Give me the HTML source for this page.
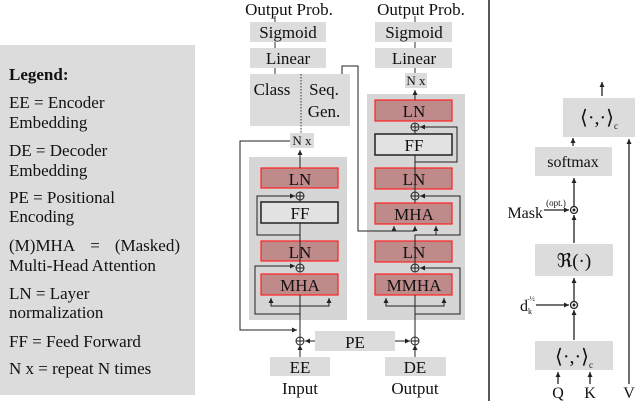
<!DOCTYPE html>
<html><head><meta charset="utf-8"><style>
html,body{margin:0;padding:0;background:#fff;}
svg{display:block;font-family:"Liberation Serif",serif;}
</style></head><body>
<svg width="640" height="401" viewBox="0 0 640 401" xmlns="http://www.w3.org/2000/svg">
<defs>
<marker id="a" markerWidth="6" markerHeight="6" refX="5" refY="3" orient="auto" markerUnits="userSpaceOnUse"><path d="M0,0.5 L5,3 L0,5.5z" fill="#222"/></marker>
</defs>
<rect x="0" y="45" width="195" height="350" fill="#dcdcdc"/>
<g font-size="17" fill="#111">
<text x="9" y="80" font-weight="bold">Legend:</text>
<text x="9" y="108">EE = Encoder</text><text x="9" y="128">Embedding</text>
<text x="9" y="156">DE = Decoder</text><text x="9" y="176">Embedding</text>
<text x="9" y="203">PE = Positional</text><text x="9" y="222">Encoding</text>
<text x="9" y="251">(M)MHA</text><text x="95" y="251" text-anchor="middle">=</text><text x="180" y="251" text-anchor="end">(Masked)</text>
<text x="9" y="271">Multi-Head Attention</text>
<text x="9" y="299">LN = Layer</text><text x="9" y="318">normalization</text>
<text x="9" y="347">FF = Feed Forward</text>
<text x="9" y="374">N x = repeat N times</text>
</g>
<g font-size="17" fill="#111" text-anchor="middle">
<text x="289" y="15">Output Prob.</text>
<text x="421" y="15">Output Prob.</text>
<rect x="250" y="22" width="76" height="20" fill="#dcdcdc"/><text x="288" y="38">Sigmoid</text>
<rect x="250" y="48" width="76" height="20" fill="#dcdcdc"/><text x="288" y="64">Linear</text>
<rect x="250" y="74" width="100" height="52" fill="#dcdcdc"/>
<text x="272" y="95">Class</text><text x="324" y="95">Seq.</text><text x="324" y="117">Gen.</text>
<line x1="301" y1="74" x2="301" y2="133" stroke="#333" stroke-dasharray="1.5,1.5"/>
<line x1="275" y1="42" x2="275" y2="48" stroke="#333"/><line x1="275" y1="68" x2="275" y2="74" stroke="#333"/>
<line x1="275" y1="16" x2="275" y2="22" stroke="#333"/>
<rect x="290" y="133" width="24" height="15" fill="#dcdcdc"/><text x="302" y="145" font-size="13">N x</text>
<rect x="249" y="157" width="98" height="163" fill="#d6d6d6"/>
<rect x="261" y="168" width="77" height="20" fill="#bf8a8a" stroke="#f22" stroke-width="1.2"/><text x="300" y="185">LN</text>
<rect x="261" y="202" width="77" height="21" fill="#e2e2e2" stroke="#222" stroke-width="1.5"/><text x="300" y="219">FF</text>
<rect x="261" y="241" width="77" height="20" fill="#bf8a8a" stroke="#f22" stroke-width="1.2"/><text x="300" y="258">LN</text>
<rect x="261" y="274" width="77" height="21" fill="#bf8a8a" stroke="#f22" stroke-width="1.2"/><text x="300" y="291">MHA</text>
<rect x="375" y="22" width="77" height="20" fill="#dcdcdc"/><text x="414" y="38">Sigmoid</text>
<rect x="375" y="48" width="77" height="20" fill="#dcdcdc"/><text x="414" y="64">Linear</text>
<rect x="405" y="73" width="22" height="15" fill="#dcdcdc"/><text x="416" y="85" font-size="13">N x</text>
<line x1="415" y1="16" x2="415" y2="22" stroke="#333"/><line x1="415" y1="42" x2="415" y2="48" stroke="#333"/><line x1="415" y1="68" x2="415" y2="73" stroke="#333"/>
<rect x="367" y="94" width="98" height="226" fill="#d6d6d6"/>
<rect x="375" y="100" width="77" height="21" fill="#bf8a8a" stroke="#f22" stroke-width="1.2"/><text x="414" y="117">LN</text>
<rect x="375" y="134" width="77" height="21" fill="#e2e2e2" stroke="#222" stroke-width="1.5"/><text x="414" y="151">FF</text>
<rect x="375" y="168" width="77" height="21" fill="#bf8a8a" stroke="#f22" stroke-width="1.2"/><text x="414" y="185">LN</text>
<rect x="375" y="203" width="77" height="21" fill="#bf8a8a" stroke="#f22" stroke-width="1.2"/><text x="414" y="220">MHA</text>
<rect x="375" y="241" width="77" height="21" fill="#bf8a8a" stroke="#f22" stroke-width="1.2"/><text x="414" y="258">LN</text>
<rect x="375" y="274" width="77" height="21" fill="#bf8a8a" stroke="#f22" stroke-width="1.2"/><text x="414" y="291">MMHA</text>
<rect x="315" y="331" width="80" height="20" fill="#dcdcdc"/><text x="355" y="348">PE</text>
<rect x="270" y="357" width="60" height="19" fill="#dcdcdc"/><text x="300" y="373">EE</text>
<rect x="385" y="357" width="61" height="19" fill="#dcdcdc"/><text x="415" y="373">DE</text>
<text x="300" y="394">Input</text><text x="415" y="394">Output</text>
</g>
<g stroke="#222" stroke-width="1" fill="none">
<line x1="300" y1="357" x2="300" y2="345" marker-end="url(#a)"/>
<line x1="315" y1="341" x2="305" y2="341" marker-end="url(#a)"/>
<line x1="395" y1="341" x2="410" y2="341" marker-end="url(#a)"/>
<line x1="415" y1="357" x2="415" y2="345" marker-end="url(#a)"/>
<circle cx="300" cy="341" r="4"/><path d="M296,341h8M300,337v8"/>
<circle cx="415" cy="341" r="4"/><path d="M411,341h8M415,337v8"/>
<line x1="300" y1="337" x2="300" y2="295"/>
<path d="M300,306 H271 V298" marker-end="url(#a)"/><path d="M300,306 H329 V298" marker-end="url(#a)"/>
<path d="M300,314 H255 V266 H295" marker-end="url(#a)"/>
<circle cx="300" cy="268" r="4"/><path d="M296,268h8M300,264v8"/>
<line x1="300" y1="241" x2="300" y2="272"/>
<path d="M300,235 H257 V196 H295" marker-end="url(#a)"/>
<line x1="300" y1="241" x2="300" y2="223"/>
<circle cx="300" cy="196" r="4"/><path d="M296,196h8M300,192v8"/>
<line x1="300" y1="202" x2="300" y2="200"/>
<line x1="300" y1="168" x2="300" y2="150" marker-end="url(#a)"/>
<path d="M290,141 H240 V330 H297" marker-end="url(#a)"/>
<path d="M342,74 V66 H358 V231 H415"/>
<line x1="394" y1="231" x2="394" y2="226" marker-end="url(#a)"/>
<line x1="415" y1="231" x2="415" y2="226" marker-end="url(#a)"/>
<line x1="415" y1="337" x2="415" y2="295"/>
<path d="M415,306 H386 V298" marker-end="url(#a)"/><path d="M415,306 H444 V298" marker-end="url(#a)"/>
<path d="M415,314 H460 V268 H420" marker-end="url(#a)"/>
<circle cx="415" cy="268" r="4"/><path d="M411,268h8M415,264v8"/>
<line x1="415" y1="241" x2="415" y2="272"/>
<path d="M415,241 V235 H460 V196 H420" marker-end="url(#a)"/>
<line x1="436" y1="235" x2="436" y2="226" marker-end="url(#a)"/>
<circle cx="415" cy="196" r="4"/><path d="M411,196h8M415,192v8"/>
<line x1="415" y1="203" x2="415" y2="200"/><line x1="415" y1="168" x2="415" y2="192"/>
<path d="M415,162 H457 V127 H420" marker-end="url(#a)"/>
<line x1="415" y1="168" x2="415" y2="155"/>
<circle cx="415" cy="127" r="4"/><path d="M411,127h8M415,123v8"/>
<line x1="415" y1="134" x2="415" y2="131"/>
<line x1="415" y1="100" x2="415" y2="90" marker-end="url(#a)"/>
</g>
<line x1="489" y1="0" x2="489" y2="401" stroke="#222" stroke-width="1.5"/>
<g fill="#dcdcdc">
<rect x="563" y="98" width="72" height="39"/>
<rect x="535" y="147" width="77" height="29"/>
<rect x="535" y="244" width="78" height="32"/>
<rect x="535" y="341" width="78" height="29"/>
</g>
<g font-family="Liberation Serif, serif" fill="#111" text-anchor="middle">
<text x="599" y="124" font-size="20">⟨·,·⟩<tspan font-size="9" dy="5">c</tspan></text>
<text x="573" y="167" font-size="16">softmax</text>
<text x="574" y="267" font-size="19">ℜ(·)</text>
<text x="574" y="363" font-size="20">⟨·,·⟩<tspan font-size="9" dy="5">c</tspan></text>
<text x="543" y="218" font-size="16" text-anchor="end">Mask</text>
<text x="556" y="206" font-size="9">(opt.)</text>
<text x="532" y="311" font-size="16" text-anchor="end">d<tspan font-size="8" dy="3">k</tspan></text>
<text x="531" y="301" font-size="7">-½</text>
<text x="558" y="398" font-size="16">Q</text><text x="590" y="398" font-size="16">K</text><text x="629" y="398" font-size="16">V</text>
</g>
<g stroke="#222" stroke-width="1.3" fill="none">
<line x1="602" y1="96" x2="602" y2="82" marker-end="url(#a)"/>
<line x1="573" y1="146" x2="573" y2="138" marker-end="url(#a)"/>
<line x1="574" y1="206" x2="574" y2="178" marker-end="url(#a)"/>
<circle cx="574" cy="210" r="3.5"/><circle cx="574" cy="210" r="0.8" fill="#222"/>
<line x1="544" y1="210" x2="569" y2="210" marker-end="url(#a)"/>
<line x1="574" y1="243" x2="574" y2="215" marker-end="url(#a)"/>
<line x1="574" y1="301" x2="574" y2="278" marker-end="url(#a)"/>
<circle cx="574" cy="305" r="3.5"/><circle cx="574" cy="305" r="0.8" fill="#222"/>
<line x1="536" y1="305" x2="569" y2="305" marker-end="url(#a)"/>
<line x1="574" y1="340" x2="574" y2="310" marker-end="url(#a)"/>
<line x1="558" y1="384" x2="558" y2="372" marker-end="url(#a)"/>
<line x1="590" y1="384" x2="590" y2="372" marker-end="url(#a)"/>
<line x1="629" y1="384" x2="629" y2="139" marker-end="url(#a)"/>
</g>
</svg>
</body></html>
